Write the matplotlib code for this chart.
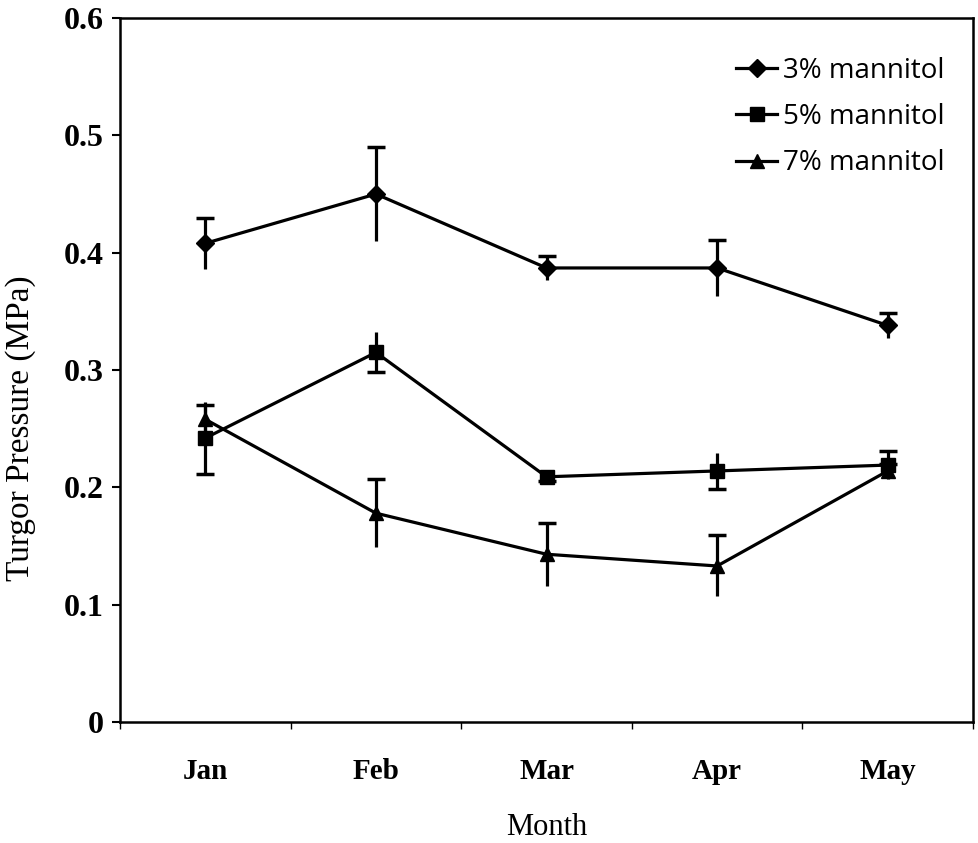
import numpy as np
import matplotlib.pyplot as plt
from matplotlib.lines import Line2D

months = ['Jan', 'Feb', 'Mar', 'Apr', 'May']

# turgor pressure (MPa) and error bars
mann3 = [0.408, 0.450, 0.387, 0.387, 0.338]
mann3_err = [0.022, 0.040, 0.010, 0.024, 0.011]
mann5 = [0.242, 0.315, 0.209, 0.214, 0.219]
mann5_err = [0.031, 0.017, 0.004, 0.015, 0.012]
mann7 = [0.258, 0.178, 0.143, 0.133, 0.214]
mann7_err = [0.012, 0.029, 0.027, 0.026, 0.006]

# which end of each bar carries a cap (+1 top, -1 bottom), as drawn in the original
mann3_cap = [1, 1, 1, 1, 1]
mann5_cap = [-1, -1, -1, -1, 1]
mann7_cap = [1, 1, 1, 1, 1]

plt.rcParams['font.family'] = ['Liberation Serif', 'DejaVu Serif']

fig = plt.figure(figsize=(9.79, 8.43), dpi=100)
ax = fig.add_axes([0.1226, 0.1435, 0.8713, 0.8351])

x = np.arange(len(months))
series = [
    (mann3, mann3_err, mann3_cap, 'D', 9, '3% mannitol'),
    (mann5, mann5_err, mann5_cap, 's', 10, '5% mannitol'),
    (mann7, mann7_err, mann7_cap, '^', 10, '7% mannitol'),
]
handles = []
for vals, err, caps, mk, ms, lab in series:
    vals = np.array(vals)
    err = np.array(err)
    ax.errorbar(x, vals, yerr=err, color='black', marker=mk, markersize=ms,
                linewidth=2.3, elinewidth=2.3, capsize=0)
    cap_y = vals + err * np.array(caps)
    ax.plot(x, cap_y, linestyle='none', marker='_', markersize=13,
            markeredgewidth=2.5, color='black')
    handles.append(Line2D([], [], color='black', marker=mk, markersize=ms,
                          linewidth=2.3, label=lab))

ax.set_xlim(-0.5, 4.5)
ax.set_ylim(0, 0.6)
ax.set_yticks(np.arange(0, 0.61, 0.1))
ax.set_yticklabels(['0', '0.1', '0.2', '0.3', '0.4', '0.5', '0.6'])
ax.set_xticks(x)
ax.set_xticklabels(months)
ax.set_xticks(np.arange(-0.5, 4.6, 1), minor=True)
ax.tick_params(axis='x', which='major', length=0, pad=26, labelsize=21)
ax.tick_params(axis='x', which='minor', length=5, width=1)
ax.tick_params(axis='y', length=6, width=1.5, labelsize=23, pad=6)
for lbl in ax.get_yticklabels() + ax.get_xticklabels():
    lbl.set_fontweight('bold')
for s in ax.spines.values():
    s.set_linewidth(1.8)

ax.set_ylabel('Turgor Pressure (MPa)', fontsize=24)
ax.yaxis.set_label_coords(-0.099, 0.418)
ax.set_xlabel('Month', fontsize=22, labelpad=20)

ax.legend(handles=handles, loc='upper right', frameon=False, handlelength=1.5,
          handletextpad=0.2, labelspacing=0.65,
          prop={'family': 'Open Sans', 'size': 20},
          bbox_to_anchor=(0.996, 0.98))

fig.savefig('out.png', dpi=100)
